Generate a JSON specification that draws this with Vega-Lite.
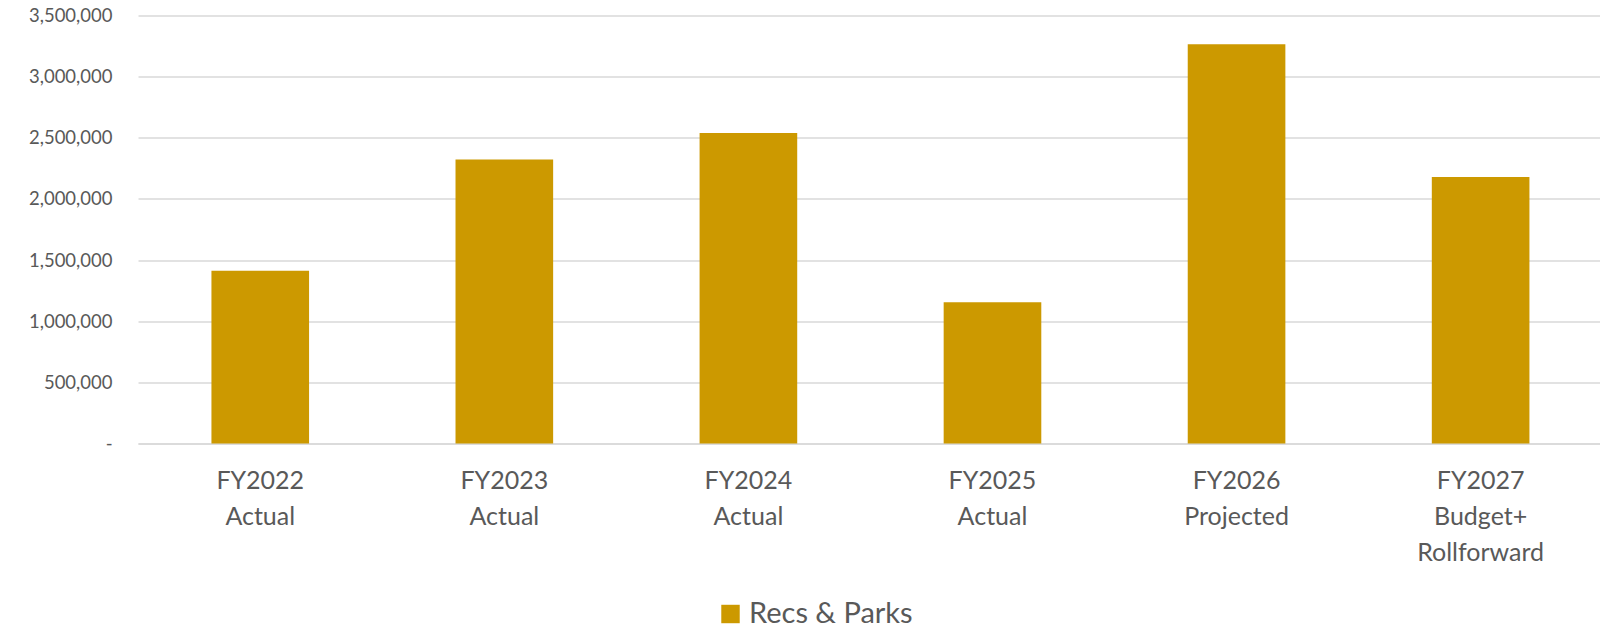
{
  "$schema": "https://vega.github.io/schema/vega-lite/v6.json",
  "width": 1462,
  "height": 428,
  "autosize": "none",
  "padding": {"left": 138, "top": 15.5, "right": 0, "bottom": 186.5},
  "background": "white",
  "data": {
    "values": [
      {"period": "FY2022|Actual", "series": "Recs & Parks", "amount": 1413000},
      {"period": "FY2023|Actual", "series": "Recs & Parks", "amount": 2322000},
      {"period": "FY2024|Actual", "series": "Recs & Parks", "amount": 2540000},
      {"period": "FY2025|Actual", "series": "Recs & Parks", "amount": 1155000},
      {"period": "FY2026|Projected", "series": "Recs & Parks", "amount": 3265000},
      {"period": "FY2027|Budget+|Rollforward", "series": "Recs & Parks", "amount": 2180000}
    ]
  },
  "mark": {"type": "bar"},
  "encoding": {
    "x": {
      "field": "period",
      "type": "nominal",
      "sort": null,
      "scale": {"paddingInner": 0.6, "paddingOuter": 0.295, "align": 0.51},
      "axis": {
        "title": null,
        "labelAngle": 0,
        "labelExpr": "split(datum.label, '|')",
        "labelFont": "Lato",
        "labelFontSize": 25,
        "labelLineHeight": 36,
        "labelColor": "#595959",
        "labelPadding": 25,
        "labelBaseline": "top",
        "labelLimit": 400,
        "ticks": false,
        "domain": true,
        "domainColor": "#d9d9d9",
        "domainWidth": 1.5,
        "grid": false
      }
    },
    "y": {
      "field": "amount",
      "type": "quantitative",
      "scale": {"domain": [0, 3500000], "nice": false},
      "axis": {
        "title": null,
        "values": [0, 500000, 1000000, 1500000, 2000000, 2500000, 3000000, 3500000],
        "labelExpr": "datum.value == 0 ? '-' : format(datum.value, ',')",
        "labelFont": "Lato",
        "labelFontSize": 18.5,
        "labelColor": "#595959",
        "labelPadding": 26,
        "ticks": false,
        "domain": false,
        "grid": true,
        "gridColor": "#d9d9d9",
        "gridWidth": 1.5
      }
    },
    "color": {
      "field": "series",
      "type": "nominal",
      "scale": {"range": ["#CC9900"]},
      "legend": {
        "title": null,
        "orient": "none",
        "legendX": 578,
        "legendY": 584,
        "symbolType": "square",
        "symbolSize": 340,
        "symbolOpacity": 1,
        "symbolStrokeWidth": 0,
        "labelFont": "Lato",
        "labelFontSize": 29,
        "labelColor": "#595959",
        "labelOffset": 4,
        "labelLimit": 400
      }
    }
  },
  "config": {
    "view": {"stroke": null}
  }
}
